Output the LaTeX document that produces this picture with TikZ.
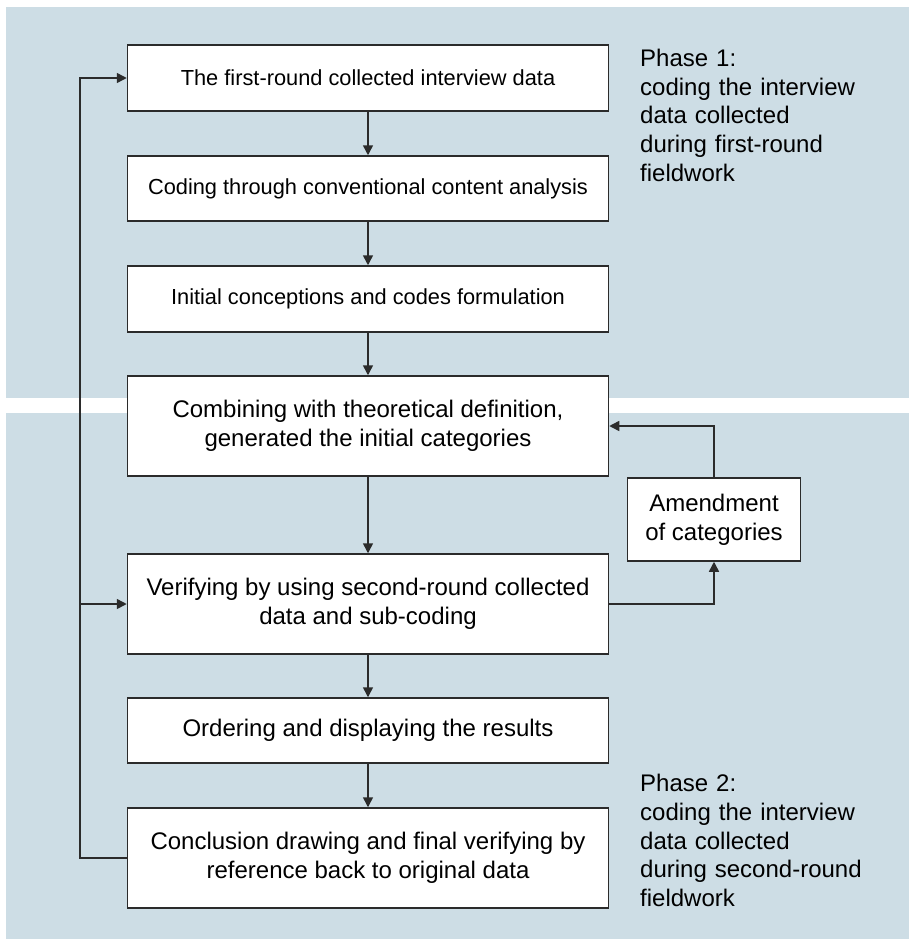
\documentclass[tikz,border=0pt]{standalone}
\usepackage{fontspec}
\setmainfont{Liberation Sans}
\usetikzlibrary{arrows.meta}
\definecolor{panel}{HTML}{CDDDE5}
\definecolor{ink}{HTML}{2B2B2B}
\begin{document}
\begin{tikzpicture}[x=1pt,y=-1pt,
  box/.style={draw=ink, line width=1.5pt, fill=white, inner sep=0pt, align=center, text=black},
  mainbox/.style={box, minimum width=481pt},
  smalltxt/.style={font=\fontsize{21.8}{26}\selectfont},
  bigtxt/.style={font=\fontsize{24}{28.8}\selectfont},
  conn/.style={draw=ink, line width=1.5pt, -{Triangle[length=10pt,width=10pt]}},
  phase/.style={font=\fontsize{24}{28.8}\selectfont, align=left, anchor=north west, inner sep=0pt, text width=260pt, text=black}]
\useasboundingbox (0,0) rectangle (909,939);
\fill[panel] (6,7) rectangle (909,397.5);
\fill[panel] (6,412.5) rectangle (909,939);

\node[mainbox,smalltxt,minimum height=66pt] (b1) at (368,78) {The first-round collected interview data};
\node[mainbox,smalltxt,minimum height=65pt] (b2) at (368,188.5) {Coding through conventional content analysis};
\node[mainbox,smalltxt,minimum height=66pt] (b3) at (368,299) {Initial conceptions and codes formulation};
\node[mainbox,bigtxt,minimum height=100pt] (b4) at (368,426) {Combining with theoretical definition,\\generated the initial categories};
\node[mainbox,bigtxt,minimum height=100pt] (b5) at (368,604) {Verifying by using second-round collected\\data and sub-coding};
\node[mainbox,bigtxt,minimum height=65pt] (b6) at (368,730.5) {Ordering and displaying the results};
\node[mainbox,bigtxt,minimum height=100pt] (b7) at (368,858) {Conclusion drawing and final verifying by\\reference back to original data};
\node[box,bigtxt,minimum width=173pt,minimum height=83pt] (am) at (714,519.5) {Amendment\\of categories};

\node[phase] (p1) at (640,48.8) {Phase 1:\\coding the interview\\data collected\\during first-round\\fieldwork};
\node[phase] (p2) at (640,773.8) {Phase 2:\\coding the interview\\data collected\\during second-round\\fieldwork};

\coordinate (L) at (80,0);

\draw[conn] (b1) -- (b2);
\draw[conn] (b2) -- (b3);
\draw[conn] (b3) -- (b4);
\draw[conn] (b4) -- (b5);
\draw[conn] (b5) -- (b6);
\draw[conn] (b6) -- (b7);

\draw[conn] (b7.west) -- (b7.west -| L) |- (b1.west);
\draw[conn] (b5.west -| L) -- (b5.west);

\draw[conn] (am.north) |- (b4.east);
\draw[conn] (b5.east) -| (am.south);
\end{tikzpicture}
\end{document}
